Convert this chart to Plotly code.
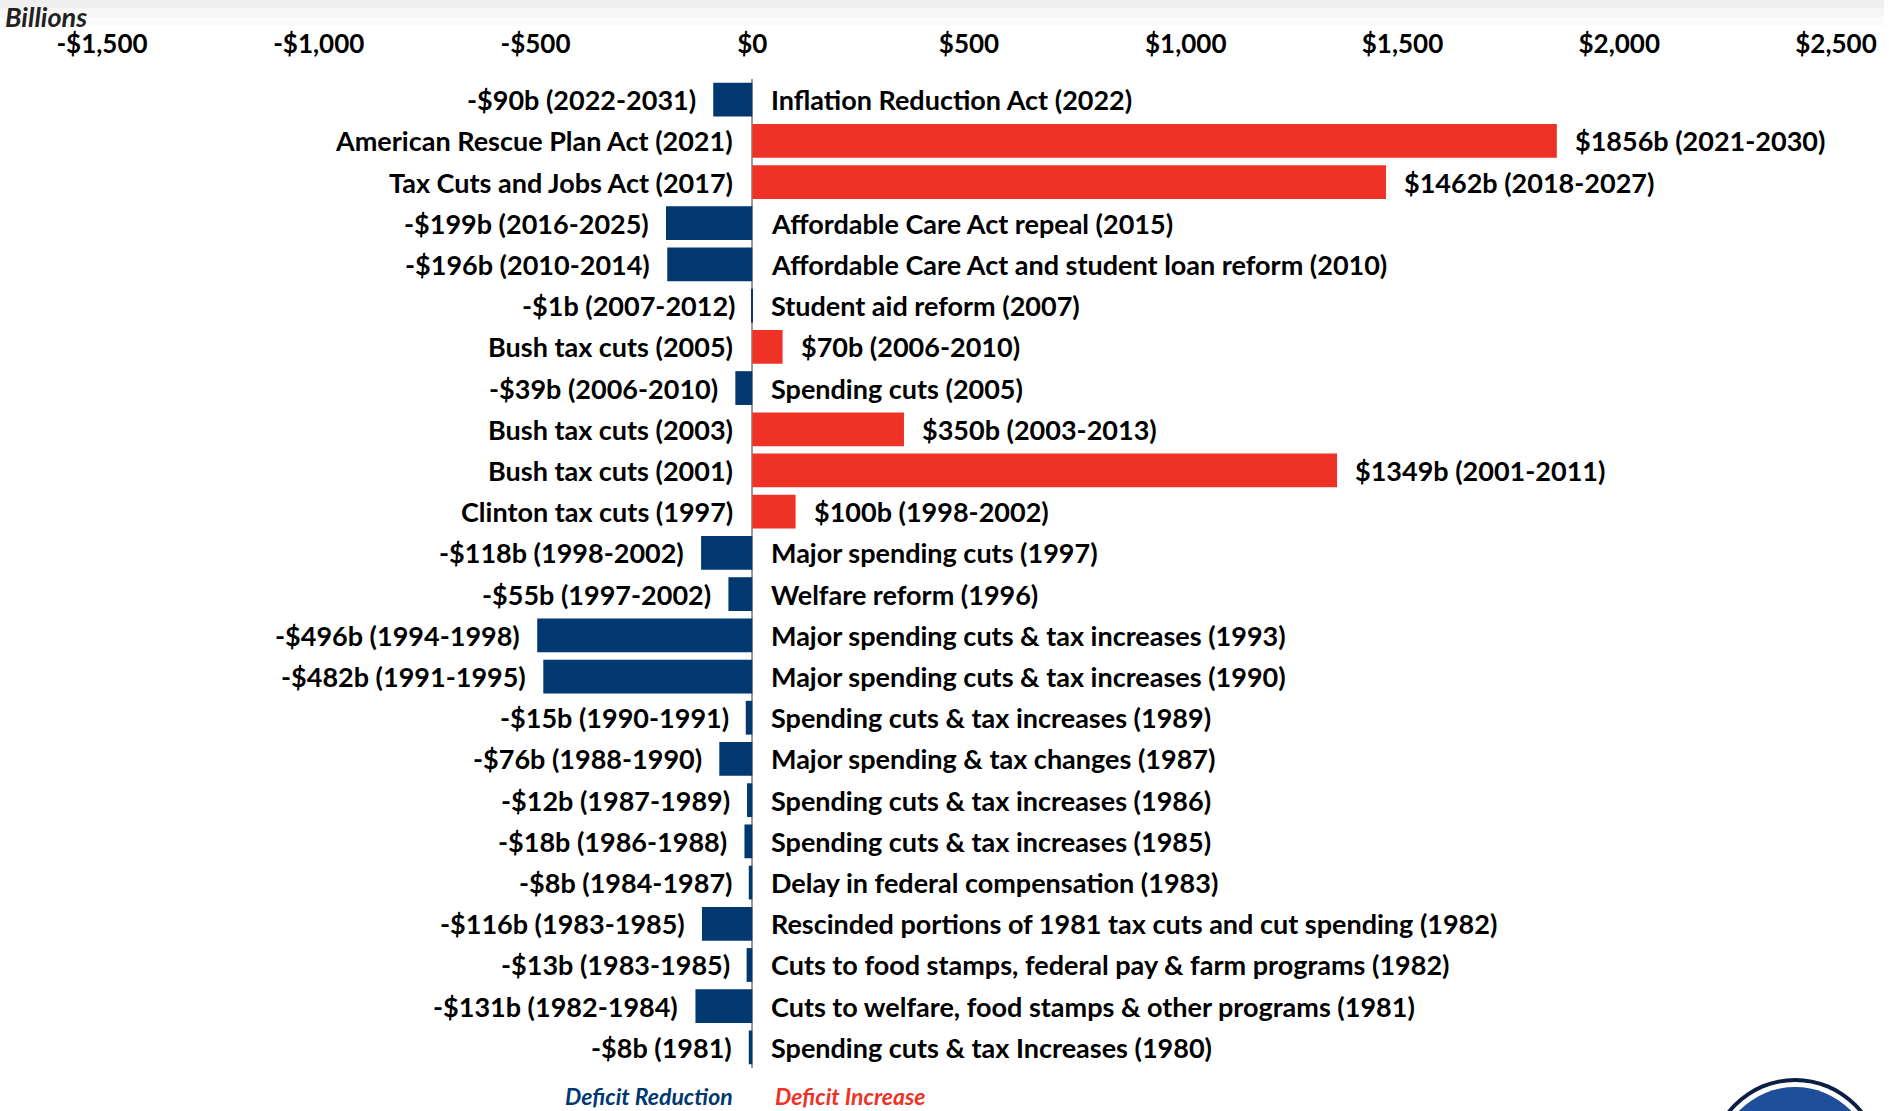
import plotly.graph_objects as go

# legislation, in chart order (top to bottom)
acts = [
    "Inflation Reduction Act (2022)",
    "American Rescue Plan Act (2021)",
    "Tax Cuts and Jobs Act (2017)",
    "Affordable Care Act repeal (2015)",
    "Affordable Care Act and student loan reform (2010)",
    "Student aid reform (2007)",
    "Bush tax cuts (2005)",
    "Spending cuts (2005)",
    "Bush tax cuts (2003)",
    "Bush tax cuts (2001)",
    "Clinton tax cuts (1997)",
    "Major spending cuts (1997)",
    "Welfare reform (1996)",
    "Major spending cuts & tax increases (1993)",
    "Major spending cuts & tax increases (1990)",
    "Spending cuts & tax increases (1989)",
    "Major spending & tax changes (1987)",
    "Spending cuts & tax increases (1986)",
    "Spending cuts & tax increases (1985)",
    "Delay in federal compensation (1983)",
    "Rescinded portions of 1981 tax cuts and cut spending (1982)",
    "Cuts to food stamps, federal pay & farm programs (1982)",
    "Cuts to welfare, food stamps & other programs (1981)",
    "Spending cuts & tax Increases (1980)",
]
# deficit impact, billions of dollars
impact = [-90, 1856, 1462, -199, -196, -1, 70, -39, 350, 1349, 100, -118, -55,
          -496, -482, -15, -76, -12, -18, -8, -116, -13, -131, -8]
# budget window
periods = ["2022-2031", "2021-2030", "2018-2027", "2016-2025", "2010-2014",
           "2007-2012", "2006-2010", "2006-2010", "2003-2013", "2001-2011",
           "1998-2002", "1998-2002", "1997-2002", "1994-1998", "1991-1995",
           "1990-1991", "1988-1990", "1987-1989", "1986-1988", "1984-1987",
           "1983-1985", "1983-1985", "1982-1984", "1981"]

tick_vals = [-1500, -1000, -500, 0, 500, 1000, 1500, 2000, 2500]
tick_text = ["-$1,500", "-$1,000", "-$500", "$0", "$500", "$1,000", "$1,500", "$2,000", "$2,500"]

BLUE = "#00386F"
RED = "#EE3326"
FONT = "Lato"

W, H = 1889, 1111
ML, MR, MT, MB = 102, 48, 79, 43
PW, PH = W - ML - MR, H - MT - MB

colors = [RED if v > 0 else BLUE for v in impact]

fig = go.Figure(go.Bar(
    x=impact,
    y=acts,
    orientation="h",
    marker=dict(color=colors, line=dict(width=0)),
    hoverinfo="skip",
))

txt_font = dict(family=FONT, size=27, color="black", weight="bold")
ann = []
for name, v, p in zip(acts, impact, periods):
    lbl = f"-${abs(v)}b ({p})" if v < 0 else f"${v}b ({p})"
    if v < 0:
        ann.append(dict(x=v, y=name, text=lbl, xanchor="right", xshift=-15, showarrow=False, font=txt_font))
        ann.append(dict(x=0, y=name, text=name, xanchor="left", xshift=17, showarrow=False, font=txt_font))
    else:
        ann.append(dict(x=v, y=name, text=lbl, xanchor="left", xshift=16, showarrow=False, font=txt_font))
        ann.append(dict(x=0, y=name, text=name, xanchor="right", xshift=-17, showarrow=False, font=txt_font))

# legend-like captions
ann.append(dict(x=0, xref="x", y=-28 / PH, yref="paper", text="<i>Deficit Reduction</i>",
                xanchor="right", xshift=-17, yanchor="middle", showarrow=False,
                font=dict(family=FONT, size=23, color=BLUE, weight="bold")))
ann.append(dict(x=0, xref="x", y=-28 / PH, yref="paper", text="<i>Deficit Increase</i>",
                xanchor="left", xshift=21, yanchor="middle", showarrow=False,
                font=dict(family=FONT, size=23, color=RED, weight="bold")))
ann.append(dict(x=(3 - ML) / PW, xref="paper", y=1 + (MT - 16) / PH, yref="paper",
                text="<i>Billions</i>", xanchor="left", yanchor="middle", showarrow=False,
                font=dict(family=FONT, size=27, color="#222", weight="bold")))

shapes = []
# faint band along the top edge
for i, c in enumerate(["#fbfbfb", "#f6f6f6", "#efefef"]):
    y0 = 1 + (MT - 26 + i * 9) / PH
    shapes.append(dict(type="rect", xref="paper", yref="paper", x0=-ML / PW, x1=1 + MR / PW,
                       y0=y0, y1=1 + MT / PH + 0.01, fillcolor=c, line=dict(width=0), layer="below"))
# logo peeking in at the bottom right
cx = (1800 - ML) / PW
for r, c in [(87, "#0b1f45"), (83, "white"), (78, "#1f4e9a")]:
    shapes.append(dict(type="circle", xref="paper", yref="paper",
                       x0=cx - r / PW, x1=cx + r / PW,
                       y0=(H - MB - 1165 - r) / PH,
                       y1=(H - MB - 1165 + r) / PH,
                       fillcolor=c, line=dict(width=0)))

fig.update_layout(
    width=W, height=H,
    margin=dict(l=ML, r=MR, t=MT, b=MB),
    plot_bgcolor="white",
    paper_bgcolor="white",
    bargap=0.18,
    showlegend=False,
    annotations=ann,
    shapes=shapes,
    xaxis=dict(
        side="top",
        range=[-1500, 2500],
        tickvals=tick_vals,
        ticktext=tick_text,
        showgrid=False,
        zeroline=True,
        zerolinecolor="#9a9a9a",
        zerolinewidth=2,
        ticks="",
        ticklabelstandoff=20,
        tickfont=dict(family=FONT, size=26, color="black", weight="bold"),
    ),
    yaxis=dict(
        categoryorder="array",
        categoryarray=acts,
        range=[len(acts) - 0.5, -0.5],
        showticklabels=False,
        showgrid=False,
        zeroline=False,
        ticks="",
    ),
)

# drop the page's default body margin so the figure sits at the window corner
fig.write_html("out.html", config={"displayModeBar": False},
               post_script="document.body.style.margin='0';")
